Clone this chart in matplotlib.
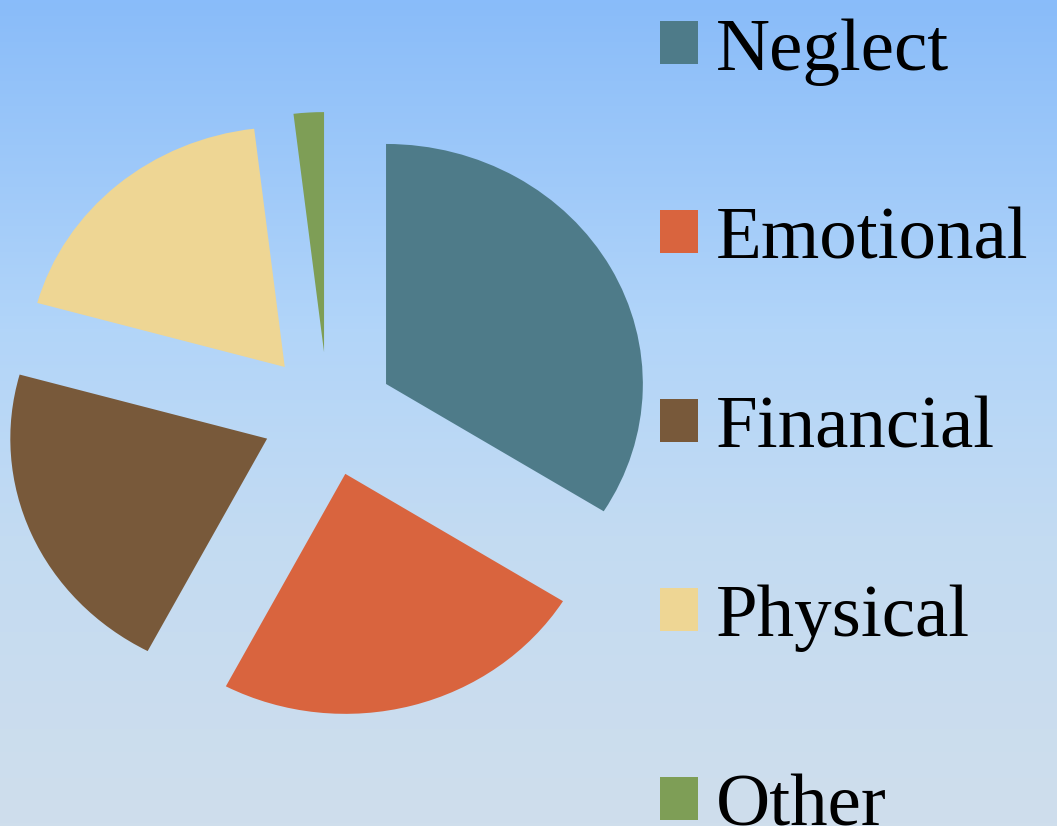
import numpy as np
import matplotlib
matplotlib.use("Agg")
import matplotlib.pyplot as plt
from matplotlib.colors import LinearSegmentedColormap

categories = ["Neglect", "Emotional", "Financial", "Physical", "Other"]
values = [33.9, 23.8, 21.6, 18.8, 1.9]
colors = ["#4E7B89", "#D9643E", "#78593A", "#EED694", "#7E9E56"]

W, H = 1057, 826
XS = 1.07  # horizontal stretch of the original picture
fig = plt.figure(figsize=(W / 100, H / 100), dpi=100)

# background gradient
bg = fig.add_axes([0, 0, 1, 1], zorder=0)
bg.axis("off")
cmap = LinearSegmentedColormap.from_list(
    "bg", [(0.0, "#CFDEEC"), (0.35, "#C3DBF2"), (0.6, "#B2D5F9"), (1.0, "#89BCFA")])
grad = np.linspace(0, 1, 256).reshape(-1, 1)
bg.imshow(grad, aspect="auto", cmap=cmap, origin="lower", extent=[0, 1, 0, 1])
bg.set_xlim(0, 1)
bg.set_ylim(0, 1)

ax = fig.add_axes([0, 0, 1, 1], zorder=1)
center = (328 / XS, H - 414)
radius = 240
explode = [62] * len(values)
wedges, _ = ax.pie(values, colors=colors, startangle=90, counterclock=False,
                   center=center, radius=radius, explode=explode,
                   wedgeprops=dict(linewidth=0), frame=True)
ax.set_aspect("auto")
ax.set_xlim(0, W / XS)
ax.set_ylim(0, H)
ax.axis("off")

leg = fig.legend(wedges, categories, loc="upper left",
                 bbox_to_anchor=(660 / W, 1 - 18 / H),
                 frameon=False, borderpad=0, borderaxespad=0,
                 prop=dict(family="Liberation Serif", size=54),
                 handlelength=0.507, handleheight=0.507, handletextpad=0.24,
                 labelspacing=1.62)
for t in leg.get_texts():
    t.set_color("black")

fig.savefig("out.png", dpi=100)
